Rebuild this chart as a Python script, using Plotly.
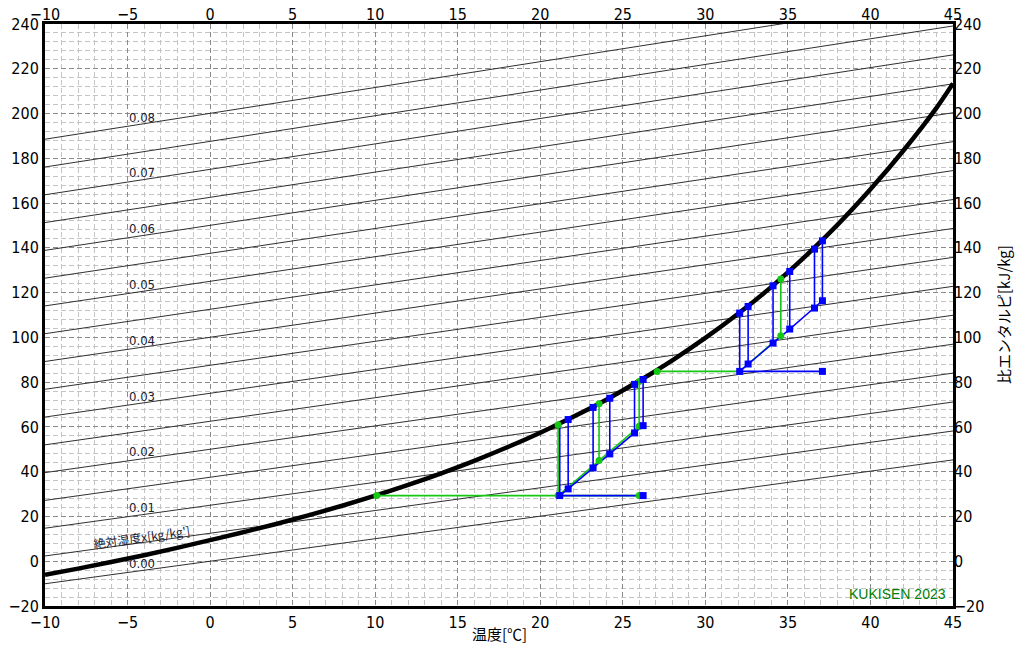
import plotly.graph_objects as go

# ---------------- data ----------------
# saturation curve: temperature [°C] vs specific enthalpy [kJ/kg]
sat_T = [-10, -8, -6, -4, -2, 0, 2, 4, 6, 8, 10, 12, 14, 16, 18, 20, 22, 24, 26,
         28, 30, 32, 34, 36, 38, 40, 42, 44, 45]
sat_h = [-6.09, -3.30, -0.38, 2.70, 5.96, 9.44, 12.94, 16.65, 20.60, 24.80, 29.29,
         34.10, 39.29, 44.87, 50.90, 57.43, 64.50, 72.18, 80.61, 89.74, 99.75,
         110.66, 122.57, 135.83, 150.25, 166.16, 183.48, 202.53, 213.42]

# constant absolute-humidity lines (enthalpy at T=-10 and T=45)
humid_x = [0.000, 0.005, 0.010, 0.015, 0.020, 0.025, 0.030, 0.035, 0.040,
           0.045, 0.050, 0.055, 0.060, 0.065, 0.070, 0.075, 0.080]
humid_h_left = [-10.06, 2.35, 14.76, 27.18, 39.59, 52.00, 64.41, 76.82, 89.24,
                101.65, 114.06, 126.47, 138.88, 151.30, 163.71, 176.12, 188.53]
humid_h_right = [45.27, 58.19, 71.12, 84.04, 96.96, 109.89, 122.81, 135.74, 148.66,
                 161.58, 174.51, 187.43, 200.35, 213.28, 226.20, 239.12, 252.05]
humid_labels = ["0.00", "0.01", "0.02", "0.03", "0.04", "0.05", "0.06", "0.07", "0.08"]
label_T = -4.13

# blue process, lower group
b1_start_T, b1_start_h = 26.23, 29.33
b1_T = [21.18, 21.69, 23.20, 24.21, 25.71, 26.23]
b1_h_low = [29.33, 32.32, 41.69, 47.94, 57.31, 60.57]
b1_h_sat = [61.0, 63.3, 68.7, 72.8, 79.0, 81.2]

# blue process, upper group
b2_end_T, b2_end_h = 37.09, 84.81
b2_T = [32.08, 32.59, 34.10, 35.11, 36.61, 37.09]
b2_h_low = [84.81, 88.11, 97.48, 103.73, 113.10, 116.36]
b2_h_sat = [110.87, 113.82, 123.06, 129.44, 139.44, 143.14]

# green process
g_start_T, g_start_h = 10.10, 29.33
g_end_T = 25.99
g1_T = [21.08, 23.56, 25.99]
g1_h_low = [29.33, 44.95, 60.26]
g1_h_sat = [61.0, 70.39, 80.34]
g2_start_T, g2_start_h = 27.08, 84.81
g2_T = [32.08, 34.57]
g2_h_low = [84.81, 100.74]
g2_h_sat = [None, 126.05]

BLUE = "#0000ff"
GREEN = "#14c814"
TICKFONT = dict(family="Liberation Sans Narrow, DejaVu Sans Condensed, Arial Narrow, sans-serif",
                size=16, color="black")
CJK = "Noto Sans CJK JP, sans-serif"

fig = go.Figure()

# constant humidity lines
for hl, hr in zip(humid_h_left, humid_h_right):
    fig.add_trace(go.Scatter(x=[-10, 45], y=[hl, hr], mode="lines",
                             line=dict(color="#303030", width=1),
                             hoverinfo="skip", showlegend=False))

# saturation curve
fig.add_trace(go.Scatter(x=sat_T, y=sat_h, mode="lines",
                         line=dict(color="black", width=4.5, shape="spline"),
                         showlegend=False))


def verticals(T, lo, hi):
    xs, ys = [], []
    for t, a, b in zip(T, lo, hi):
        if b is None:
            continue
        xs += [t, t, None]
        ys += [a, b, None]
    return xs, ys


# ---- green lines ----
gx, gy = [], []
gx += [g_start_T, g1_T[0], g_end_T, None]
gy += [g_start_h, g1_h_low[0], g_start_h, None]
gx += list(g1_T) + [None]
gy += list(g1_h_low) + [None]
vx, vy = verticals(g1_T, g1_h_low, g1_h_sat)
gx += vx
gy += vy
gx += [g2_start_T, g2_T[0], None]
gy += [g2_start_h, g2_h_low[0], None]
gx += list(g2_T) + [None]
gy += list(g2_h_low) + [None]
vx, vy = verticals(g2_T, g2_h_low, g2_h_sat)
gx += vx
gy += vy
fig.add_trace(go.Scatter(x=gx, y=gy, mode="lines", line=dict(color=GREEN, width=1.6),
                         connectgaps=False, showlegend=False))

# ---- blue lines ----
bx, by = [], []
bx += [b1_start_T, b1_T[0], None]
by += [b1_start_h, b1_h_low[0], None]
bx += list(b1_T) + [None]
by += list(b1_h_low) + [None]
vx, vy = verticals(b1_T, b1_h_low, b1_h_sat)
bx += vx
by += vy
bx += [b2_T[0], b2_end_T, None]
by += [b2_h_low[0], b2_end_h, None]
bx += list(b2_T) + [None]
by += list(b2_h_low) + [None]
vx, vy = verticals(b2_T, b2_h_low, b2_h_sat)
bx += vx
by += vy
fig.add_trace(go.Scatter(x=bx, y=by, mode="lines", line=dict(color=BLUE, width=1.6),
                         connectgaps=False, showlegend=False))

# ---- green markers ----
gmx = [g_start_T, g1_T[0], g_end_T] + g1_T[1:] + g1_T + [g2_start_T, g2_T[1], g2_T[1]]
gmy = [g_start_h, g1_h_low[0], g_start_h] + g1_h_low[1:] + g1_h_sat + [g2_start_h, g2_h_low[1], g2_h_sat[1]]
fig.add_trace(go.Scatter(x=gmx, y=gmy, mode="markers",
                         marker=dict(color=GREEN, size=7, symbol="circle"),
                         showlegend=False))

# ---- blue markers ----
bmx = [b1_start_T] + b1_T + b1_T[1:] + [b2_end_T] + b2_T + b2_T
bmy = [b1_start_h] + b1_h_low + b1_h_sat[1:] + [b2_end_h] + b2_h_low + b2_h_sat
fig.add_trace(go.Scatter(x=bmx, y=bmy, mode="markers",
                         marker=dict(color=BLUE, size=7, symbol="square"),
                         showlegend=False))

# invisible trace for secondary axes
fig.add_trace(go.Scatter(x=[-10, 45], y=[-20, 240], xaxis="x2", yaxis="y2",
                         mode="markers", marker=dict(opacity=0), hoverinfo="skip",
                         showlegend=False))

# humidity labels
for i, lab in enumerate(humid_labels):
    k = i * 2
    yv = humid_h_left[k] + (humid_h_right[k] - humid_h_left[k]) * (label_T + 10) / 55.0
    fig.add_annotation(x=label_T, y=yv, text=lab, showarrow=False, yshift=7,
                       font=dict(family="Liberation Sans Narrow, DejaVu Sans Condensed, sans-serif",
                                 size=13, color="#202030"))

fig.add_annotation(x=-4.13, y=11.0, text="絶対湿度x[kg/kg']", showarrow=False,
                   textangle=-8, font=dict(family=CJK, size=12, color="#202030"))

fig.add_annotation(xref="paper", yref="paper", x=0.994, y=0.021, xanchor="right",
                   yanchor="middle", text="KUKISEN 2023", showarrow=False,
                   font=dict(family="Liberation Sans, Arial, sans-serif", size=14, color="#008000"))

# axis titles
fig.add_annotation(xref="paper", yref="paper", x=0.5, y=0, yanchor="middle",
                   yshift=-27, text="温度[℃]", showarrow=False,
                   font=dict(family=CJK, size=15, color="black"))
fig.add_annotation(xref="paper", yref="paper", x=1, y=0.5, xanchor="center",
                   xshift=50, textangle=-90, text="比エンタルピ[kJ/kg]", showarrow=False,
                   font=dict(family=CJK, size=15, color="black"))

grid_major = dict(showgrid=True, gridcolor="#8a8a8a", gridwidth=1, griddash="5px,3px")

fig.update_layout(
    width=1020, height=646,
    margin=dict(l=45, r=67, t=24, b=40, autoexpand=False),
    paper_bgcolor="white", plot_bgcolor="white",
    xaxis=dict(range=[-10, 45], dtick=5, tick0=-10, ticks="", **grid_major,
               minor=dict(dtick=1, showgrid=True, gridcolor="#c4c4c4", gridwidth=1,
                          griddash="5px,3px"),
               showline=True, linecolor="black", linewidth=3, mirror=True,
               zeroline=False, tickfont=TICKFONT, automargin=False),
    yaxis=dict(range=[-20, 240], dtick=20, tick0=-20, ticks="", **grid_major,
               minor=dict(dtick=4, showgrid=True, gridcolor="#c4c4c4", gridwidth=1,
                          griddash="5px,3px"),
               showline=True, linecolor="black", linewidth=3, mirror=True,
               zeroline=False, tickfont=TICKFONT, automargin=False),
    xaxis2=dict(range=[-10, 45], dtick=5, tick0=-10, ticks="", overlaying="x",
                side="top", showgrid=False, zeroline=False, tickfont=TICKFONT,
                automargin=False),
    yaxis2=dict(range=[-20, 240], dtick=20, tick0=-20, ticks="", overlaying="y",
                side="right", showgrid=False, zeroline=False, tickfont=TICKFONT,
                automargin=False),
    showlegend=False,
)

fig.write_html("out.html",
               config={"displayModeBar": False},
               post_script="document.body.style.margin='0px';"
                           "document.body.style.overflow='hidden';")
